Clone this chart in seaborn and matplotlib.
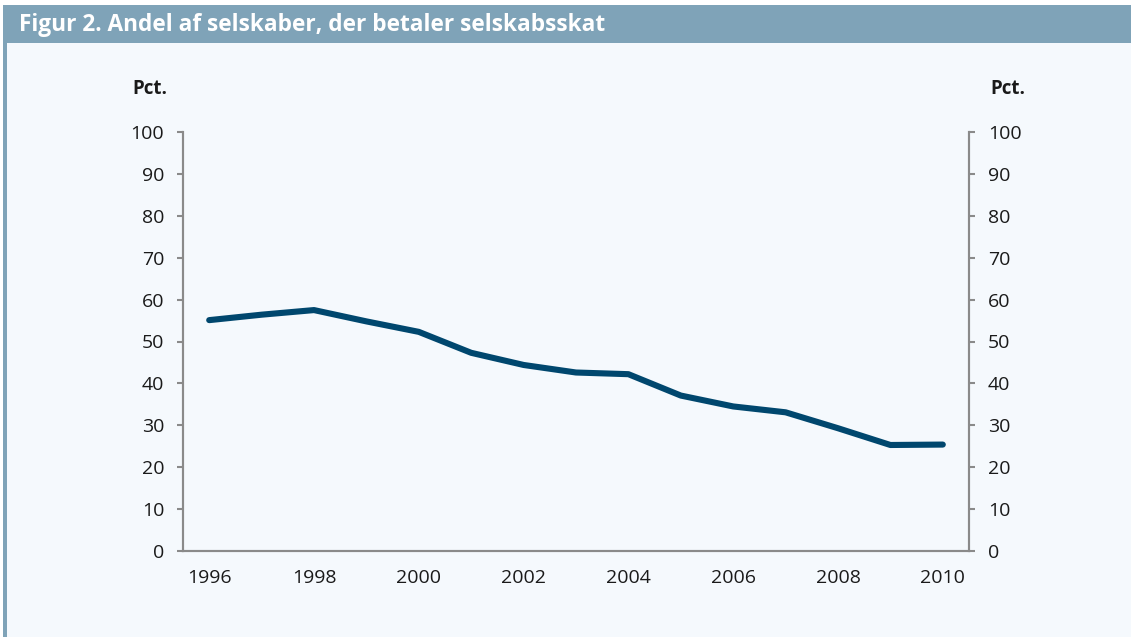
import pandas as pd
import seaborn as sns
import matplotlib.pyplot as plt
from matplotlib.patches import Rectangle

# Data
years = [1996, 1997, 1998, 1999, 2000, 2001, 2002, 2003, 2004, 2005, 2006, 2007, 2008, 2009, 2010]
share = [55.1, 56.4, 57.5, 54.8, 52.3, 47.3, 44.4, 42.6, 42.2, 37.1, 34.5, 33.1, 29.3, 25.3, 25.4]
year_labels = [1996, 1998, 2000, 2002, 2004, 2006, 2008, 2010]
y_ticks = [0, 10, 20, 30, 40, 50, 60, 70, 80, 90, 100]
title = "Figur 2. Andel af selskaber, der betaler selskabsskat"
unit = "Pct."

df = pd.DataFrame({"year": years, "share": share})

bg = "#f5f9fd"
bar_col = "#7fa3b8"
line_col = "#00476e"
spine_col = "#8a8a8a"
txt_col = "#1a1a1a"

sns.set_style("white")
plt.rcParams["font.family"] = ["Open Sans", "DejaVu Sans"]

fig = plt.figure(figsize=(11.31, 6.37), dpi=100, facecolor=bg)
W, H = 1131, 637

# title bar + left border
fig.patches.append(Rectangle((0, (H - 5) / H), 1, 5 / H, transform=fig.transFigure,
                             facecolor="white", edgecolor="none", zorder=0))
fig.patches.append(Rectangle((3 / W, (H - 43) / H), 1, 38 / H, transform=fig.transFigure,
                             facecolor=bar_col, edgecolor="none", zorder=1))
fig.patches.append(Rectangle((3 / W, 0), 4 / W, (H - 43) / H, transform=fig.transFigure,
                             facecolor=bar_col, edgecolor="none", zorder=1))
fig.patches.append(Rectangle((0, 0), 3 / W, 1, transform=fig.transFigure,
                             facecolor="white", edgecolor="none", zorder=1))
fig.text(19 / W, 1 - 25 / H, title, color="white", fontsize=16.3, fontweight="bold",
         va="center", ha="left")

ax = fig.add_axes([183 / W, 1 - 551 / H, (969 - 183) / W, (551 - 132) / H])
ax.set_facecolor(bg)
sns.lineplot(data=df, x="year", y="share", ax=ax, color=line_col, linewidth=4.4,
             solid_capstyle="round", solid_joinstyle="round")

ax.set_xlim(years[0] - 0.5, years[-1] + 0.5)
ax.set_ylim(0, 100)
ax.set_xlabel("")
ax.set_ylabel("")

ax.set_xticks(year_labels)
ax.set_xticklabels([str(y) for y in year_labels])
ax.set_xticks([y - 0.5 for y in years] + [years[-1] + 0.5], minor=True)
ax.tick_params(axis="x", which="major", length=0, pad=13, labelsize=14, colors=txt_col)
ax.tick_params(axis="x", which="minor", length=4.5, width=1.5, color=spine_col, direction="out")

ax.set_yticks(y_ticks)
ax.tick_params(axis="y", which="major", length=4.5, width=1.5, color=spine_col,
               direction="out", pad=9, labelsize=14, labelcolor=txt_col)

ax2 = ax.twinx()
ax2.set_ylim(0, 100)
ax2.set_yticks(y_ticks)
ax2.tick_params(axis="y", which="major", length=4.5, width=1.5, color=spine_col,
                direction="out", pad=9, labelsize=14, labelcolor=txt_col)

for a in (ax, ax2):
    a.spines["top"].set_visible(False)
    for s in ("left", "right", "bottom"):
        a.spines[s].set_color(spine_col)
        a.spines[s].set_linewidth(1.5)

fig.text(150 / W, 1 - 89 / H, unit, fontsize=13.5, fontweight="bold", color=txt_col,
         ha="center", va="center")
fig.text(1008 / W, 1 - 89 / H, unit, fontsize=13.5, fontweight="bold", color=txt_col,
         ha="center", va="center")

fig.savefig("out.png", dpi=100, facecolor=bg)
